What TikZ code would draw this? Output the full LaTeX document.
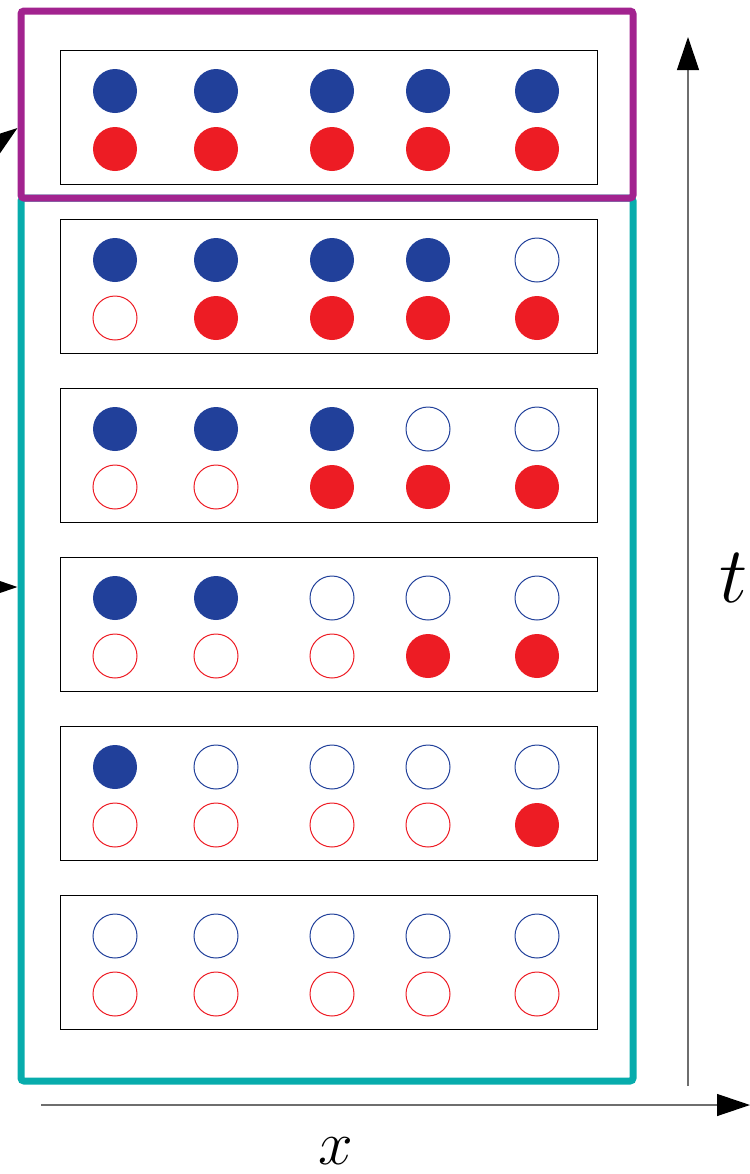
\documentclass[tikz,border=0pt]{standalone}
\usepackage{amsmath}
\usepackage{tikz}
\usetikzlibrary{arrows.meta}
\definecolor{spinup}{HTML}{21409A}
\definecolor{spindn}{HTML}{ED1C24}
\definecolor{frametop}{HTML}{A2238F}
\definecolor{framebody}{HTML}{07ACAC}
\definecolor{axisgray}{HTML}{6E6E6E}

\begin{document}
\begin{tikzpicture}[x=0.5pt,y=-0.5pt,
  dot/.style={circle,inner sep=0pt,minimum size=22pt,line width=0.5pt},
  panel/.style={draw=black,line width=0.5pt,minimum width=268.5pt,minimum height=67pt,inner sep=0pt},
  frame/.style={draw=#1,line width=3.5pt,rounded corners=1.5pt,minimum width=306pt,inner sep=0pt},
  axis/.style={axisgray,line width=0.6pt,-{Triangle[length=16.5pt,width=11pt,black]}},
  pointer/.style={black,line width=1pt,-{Triangle[length=16.5pt,width=11pt]}}]
  \useasboundingbox (0,0) rectangle (750,1174);
  \clip (0,0) rectangle (750,1174);
  % frames
  \node[frame=framebody,minimum height=441.5pt] (body) at (327,639.5) {};
  \node[frame=frametop,minimum height=93.5pt] (head) at (327,104.5) {};
  % panels of occupations
  \foreach \r in {0,...,5}{
    \node[panel] (row\r) at (328.5,117+169*\r) {};
    \foreach \cx [count=\i from 0] in {115,216,332,428,537}{
      \ifnum\numexpr\i+\r\relax<5 \node[dot,fill=spinup] (b\r\i) at (\cx,91+169*\r) {};
      \else \node[dot,draw=spinup] (b\r\i) at (\cx,91+169*\r) {};\fi
      \ifnum\i<\r \node[dot,draw=spindn] (d\r\i) at (\cx,149+169*\r) {};
      \else \node[dot,fill=spindn] (d\r\i) at (\cx,149+169*\r) {};\fi
    }
  }
  % axes
  \coordinate (x0) at (41,1105); \coordinate (x1) at (750,1105);
  \coordinate (t0) at (688,1086); \coordinate (t1) at (688,37);
  \draw[axis] (x0) -- (x1);
  \draw[axis] (t0) -- (t1);
  \node[font=\Huge,scale=1.25] (xlab) at (336,1151) {$x$};
  \node[font=\Huge,scale=1.6] (tlab) at (734,578) {$t$};
  % incoming arrows
  \path (head.west) ++(0,23.5) coordinate (hitA);
  \coordinate (kick) at (-32.5,165);
  \coordinate (feed) at (-60,587);
  \draw[pointer] (kick) -- (hitA);
  \draw[pointer] (feed) -- (body.west |- feed);
\end{tikzpicture}
\end{document}
